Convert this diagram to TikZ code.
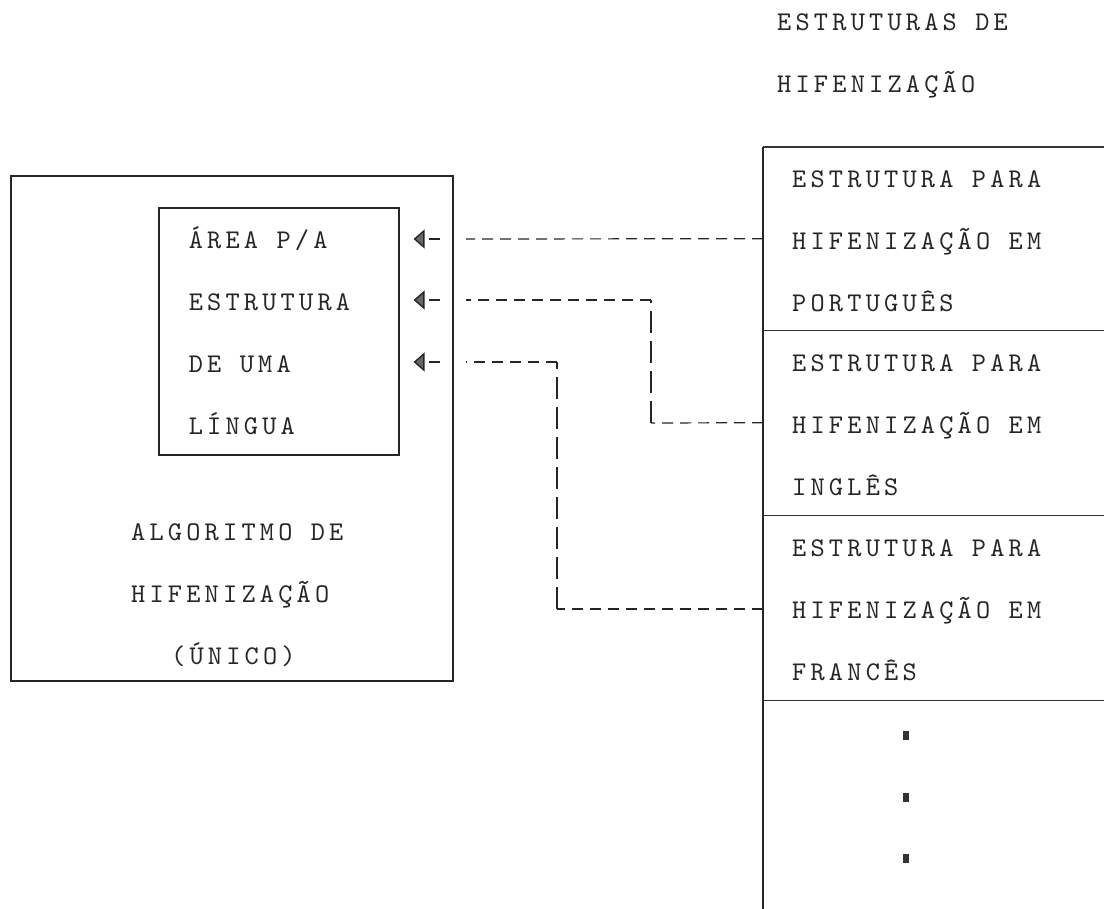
\documentclass[tikz,border=0pt]{standalone}
\usepackage{fontspec}
\usetikzlibrary{arrows.meta}
\newfontfamily\tw[LetterSpace=15.6]{lmmono10-regular.otf}
\newcommand\twfont{\fontsize{27}{62}\selectfont\tw}
\newcommand\gap{\hspace*{18.4pt}}
\newcommand\tst{\rule{0pt}{24pt}}
\newcommand\bst{\rule[-3pt]{0pt}{3pt}}
\begin{document}
\begin{tikzpicture}[x=1pt,y=-1pt,
  txt/.style={font=\twfont, align=left, inner sep=0pt, text=black!85},
  boxline/.style={draw=black!85, line width=1.6pt},
  divider/.style={draw=black!80, line width=1.1pt},
  comp/.style={txt, anchor=north west, minimum height=#1, inner xsep=29pt, inner ysep=0pt, text width=283pt},
  hdash/.style={draw=black!85, line width=1.2pt, dash pattern=on 11pt off 7pt},
  vdash/.style={draw=black!85, line width=1.4pt, dash pattern=on 22pt off 8pt},
  tip/.style={draw=black!85, line width=1.2pt, dash pattern=on 11pt off 100pt,
    -{Triangle[length=11pt, width=19pt, fill=black!60, line width=1.4pt]}, shorten >=14pt},
  dotmark/.style={fill=black!80, minimum width=6pt, minimum height=9pt, inner sep=0pt}]
\useasboundingbox (0,0) rectangle (1104,909);

% title
\node[txt, anchor=west] (title) at (777,52) {\tst ESTRUTURAS\gap DE\\HIFENIZAÇÃO\bst};

% left side
\node[boxline, anchor=north west, minimum width=442pt, minimum height=505pt, inner sep=0pt] (algo) at (10,175) {};
\node[txt, boxline, anchor=north west, minimum width=240pt, minimum height=247pt,
      inner xsep=30pt, inner ysep=0pt, text width=180pt] (area) at (158,207)
      {\tst ÁREA\gap P/A\\ESTRUTURA\\DE\gap UMA\\LÍNGUA\bst};
\node[txt, anchor=west] (algotext) at (131,592)
      {\tst ALGORITMO\gap DE\\HIFENIZAÇÃO\\\hspace*{40pt}(ÚNICO)\bst};

% right column compartments
\node[comp=183pt] (pt) at (763,147) {\tst ESTRUTURA\gap PARA\\HIFENIZAÇÃO\gap EM\\PORTUGUÊS\bst};
\node[comp=185pt] (en) at (763,330) {\tst ESTRUTURA\gap PARA\\HIFENIZAÇÃO\gap EM\\INGLÊS\bst};
\node[comp=185pt] (fr) at (763,515) {\tst ESTRUTURA\gap PARA\\HIFENIZAÇÃO\gap EM\\FRANCÊS\bst};
\node[comp=209pt] (more) at (763,700) {};

\draw[boxline] (pt.north west) -- (more.south west);
\draw[divider] (pt.north west) -- (pt.north east);
\draw[divider] (pt.south west) -- (pt.south east);
\draw[divider] (en.south west) -- (en.south east);
\draw[divider] (fr.south west) -- (fr.south east);

\node[dotmark] (d1) at (906,735) {};
\node[dotmark] (d2) at (906,797) {};
\node[dotmark] (d3) at (906,858) {};

% connector endpoints
\coordinate (e1) at (466,239);
\coordinate (e2) at (466,300);
\coordinate (e3) at (466,362);
\coordinate (s1) at (440,239);
\coordinate (s2) at (440,300);
\coordinate (s3) at (440,362);
\coordinate (c2a) at (651,300);
\coordinate (c2b) at (651,423);
\coordinate (c3a) at (557,362);
\coordinate (c3b) at (557,609);

% connectors
\draw[hdash] (pt.west) -- (e1);
\draw[hdash] (en.west) -- (c2b);
\draw[vdash] (c2b) -- (c2a);
\draw[hdash] (c2a) -- (e2);
\draw[hdash] (fr.west |- c3b) -- (c3b);
\draw[vdash] (c3b) -- (c3a);
\draw[hdash] (c3a) -- (e3);

% arrow heads into the inner box
\draw[tip] (s1) -- (area.east |- s1);
\draw[tip] (s2) -- (area.east |- s2);
\draw[tip] (s3) -- (area.east |- s3);
\end{tikzpicture}
\end{document}
